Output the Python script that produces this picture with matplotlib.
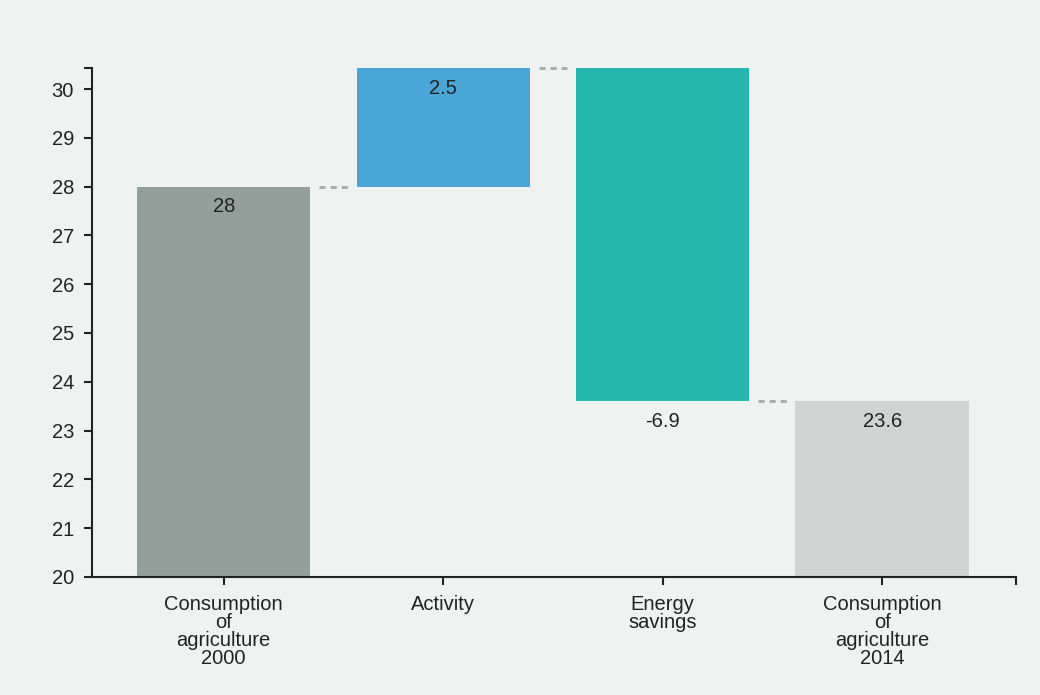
import numpy as np
import matplotlib
matplotlib.use("Agg")
import matplotlib.pyplot as plt

# Data
categories = ["Consumption\nof\nagriculture\n2000", "Activity",
              "Energy\nsavings", "Consumption\nof\nagriculture\n2014"]
values = [28, 2.5, -6.9, 23.6]
is_total = [True, False, False, True]
labels = ["28", "2.5", "-6.9", "23.6"]
colors = ["#939f9a", "#4aa6d6", "#26b6ae", "#cfd3d2"]
y_ticks = list(range(20, 31))

bg = "#eef3f2"
plt.rcParams['font.family'] = ['Liberation Sans', 'DejaVu Sans']

fig = plt.figure(figsize=(10.4, 6.95), dpi=100, facecolor=bg)
ax = fig.add_axes([0.0885, 0.170, 0.8885, 0.732])
ax.set_facecolor(bg)

ytop = 30.43
x = np.arange(len(categories))
width = 0.79

# compute bar extents
bottoms, tops, ends = [], [], []
running = 0
for v, tot in zip(values, is_total):
    if tot:
        bottoms.append(0)
        tops.append(v)
        running = v
    else:
        new = running + v
        bottoms.append(min(running, new))
        tops.append(max(running, new))
        running = new
    ends.append(running)

ax.bar(x, np.array(tops) - np.array(bottoms), bottom=bottoms, width=width,
       color=colors, zorder=2)

# connectors
gap = 0.04
for i in range(len(x) - 1):
    yc = min(ends[i], ytop)
    ax.plot([x[i] + width / 2 + gap, x[i + 1] - width / 2 - gap],
            [yc, yc], color="#a8aaa9", lw=2,
            linestyle=(0, (2.2, 1.8)), zorder=1, clip_on=False)

# value labels
for i in range(len(x)):
    ax.annotate(labels[i], (x[i], min(ends[i], ytop)), xytext=(0, -20),
                textcoords="offset pixels", ha="center", va="center",
                fontsize=14.5, color="#222222")

ax.set_ylim(20, ytop)
ax.set_xlim(-0.6, 3.61)
ax.set_yticks(y_ticks)
ax.set_yticks([ytop], minor=True)
ax.set_xticks(x)
ax.set_xticklabels(categories, linespacing=0.93)
ax.set_xticks([3.61], minor=True)

for s in ["top", "right"]:
    ax.spines[s].set_visible(False)
for s in ["left", "bottom"]:
    ax.spines[s].set_linewidth(1.5)
    ax.spines[s].set_color("#222222")

ax.tick_params(axis="both", which="both", length=6, width=1.5,
               color="#222222", labelsize=14.5, labelcolor="#222222")
ax.tick_params(axis="x", pad=7)
ax.tick_params(axis="y", pad=7)

plt.savefig("out.png", dpi=100, facecolor=bg)
